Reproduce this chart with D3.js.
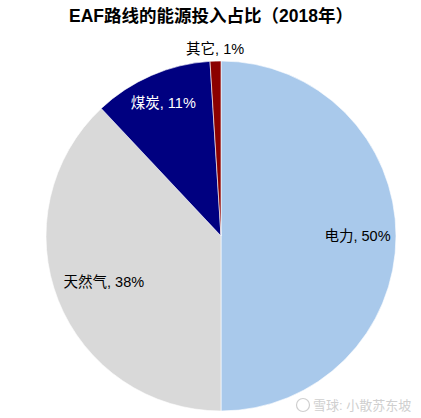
<!DOCTYPE html>
<html><head><meta charset="utf-8">
<script src="https://cdn.jsdelivr.net/npm/d3@7/dist/d3.min.js"></script>
<style>
html,body{margin:0;padding:0;background:#fff;}
svg{display:block;font-family:"Liberation Sans","Noto Sans CJK SC",Arial,sans-serif;}
</style></head>
<body><svg id="c" width="421" height="418"></svg>
<script>
const categories = ["电力", "天然气", "煤炭", "其它"];
const values = [50, 38, 11, 1];
const title = "EAF路线的能源投入占比（2018年）";

const colors = ["#A9C9EB", "#D9D9D9", "#000080", "#8B0000"];
const labelColors = ["#000", "#000", "#fff", "#000"];
const labelRadius = [0.78, 0.72, 0.83, 1.07];

const svg = d3.select("#c");
const cx = 221, cy = 236, R = 175;

svg.append("text").attr("x", 211).attr("y", 22).attr("text-anchor", "middle")
  .attr("font-size", 17.5).attr("font-weight", "bold").attr("fill", "#000").text(title);

const pie = d3.pie().sort(null).value(d => d)(values);
const arc = d3.arc().innerRadius(0).outerRadius(R);
const g = svg.append("g").attr("transform", `translate(${cx},${cy})`);
g.selectAll("path").data(pie).join("path")
  .attr("d", arc).attr("fill", (d, i) => colors[i])
  .attr("stroke", "#fff").attr("stroke-width", 0.6);

g.selectAll("text.lbl").data(pie).join("text").attr("class", "lbl")
  .attr("transform", (d, i) => {
    const a = (d.startAngle + d.endAngle) / 2;
    const r = R * labelRadius[i];
    return `translate(${Math.sin(a) * r},${-Math.cos(a) * r})`;
  })
  .attr("text-anchor", "middle").attr("dy", "0.35em")
  .attr("font-size", 14.5).attr("fill", (d, i) => labelColors[i])
  .text((d, i) => `${categories[i]}, ${values[i]}%`);

// watermark
const wm = svg.append("g");
wm.append("circle").attr("cx", 303).attr("cy", 405).attr("r", 6.5)
  .attr("fill", "none").attr("stroke", "#cfcfcf").attr("stroke-width", 1.2);
wm.append("text").attr("x", 313).attr("y", 410).attr("font-size", 13)
  .attr("fill", "#cfcfcf").text("雪球: 小散苏东坡");
</script></body></html>
